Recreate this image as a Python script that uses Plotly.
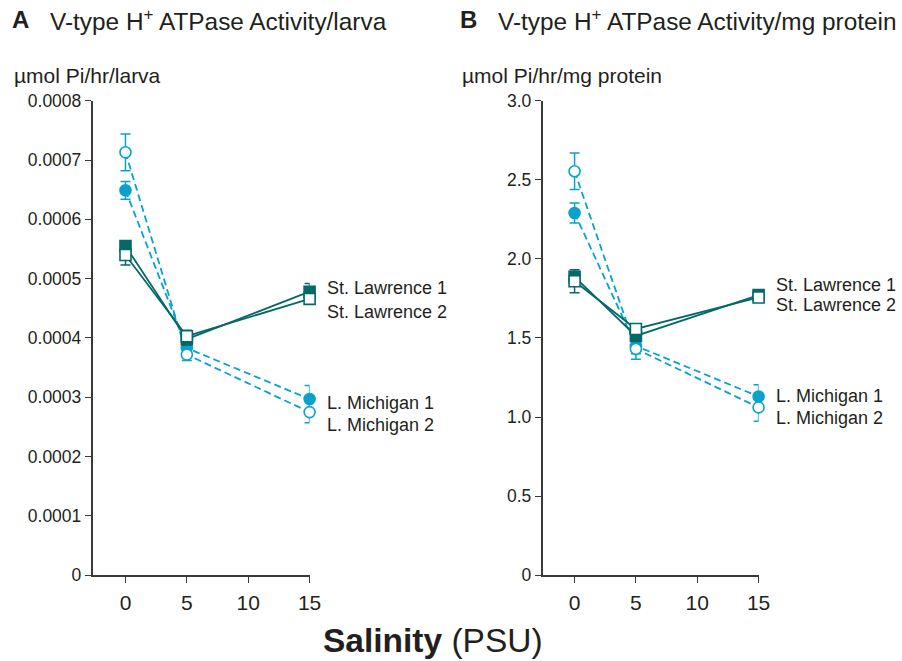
import plotly.graph_objects as go

salinity = [0, 5, 15]

# Panel A: activity per larva (umol Pi/hr/larva)
a_lm1 = [0.000649, 0.000383, 0.000297]
a_lm1_err = [0.000015, 0.000012, 0.000023]
a_lm2 = [0.000713, 0.000372, 0.000275]
a_lm2_err = [0.000031, 0.000010, 0.000018]
a_sl1 = [0.000555, 0.000398, 0.000478]
a_sl1_err = [0.000006, 0.000010, 0.000014]
a_sl2 = [0.000540, 0.000403, 0.000466]
a_sl2_err = [0.000017, 0.000010, 0.000008]

# Panel B: activity per mg protein (umol Pi/hr/mg protein)
b_lm1 = [2.29, 1.45, 1.13]
b_lm1_err = [0.063, 0.05, 0.074]
b_lm2 = [2.554, 1.431, 1.061]
b_lm2_err = [0.115, 0.065, 0.088]
b_sl1 = [1.886, 1.513, 1.771]
b_sl1_err = [0.022, 0.03, 0.03]
b_sl2 = [1.859, 1.557, 1.756]
b_sl2_err = [0.073, 0.03, 0.02]

a_ticks = [0, 0.0001, 0.0002, 0.0003, 0.0004, 0.0005, 0.0006, 0.0007, 0.0008]
a_ticktext = ["0", "0.0001", "0.0002", "0.0003", "0.0004", "0.0005", "0.0006", "0.0007", "0.0008"]
b_ticks = [0, 0.5, 1.0, 1.5, 2.0, 2.5, 3.0]
b_ticktext = ["0", "0.5", "1.0", "1.5", "2.0", "2.5", "3.0"]
x_ticks = [0, 5, 10, 15]

series_names = ["L. Michigan 1", "L. Michigan 2", "St. Lawrence 1", "St. Lawrence 2"]

CYAN = "#0aa2cc"
TEAL = "#05696a"
TXT = "#231f20"
AX = "#3a3a3a"
FONT = "Liberation Sans, Arial, sans-serif"

# rendered paper area (measured): width 894, height 643, top offset 9
PW, PH, PT = 894.0, 643.0, 9.0
def fx(px):
    return px / PW
def fy(py):
    return 1 - (py - PT) / PH

fig = go.Figure()

def add_series(xa, ya, y, err, color, filled, symbol, dash):
    fig.add_trace(go.Scatter(
        x=salinity, y=y, xaxis=xa, yaxis=ya, mode="lines+markers",
        line=dict(color=color, width=1.8, dash=dash),
        marker=dict(symbol=symbol, size=11, color=color if filled else "white",
                    line=dict(color=color, width=1.6)),
        error_y=dict(type="data", array=err, visible=True, color=color,
                     thickness=1.5, width=5),
        showlegend=False, cliponaxis=False,
    ))

panels = [
    ("x", "y", [(a_lm1, a_lm1_err), (a_lm2, a_lm2_err), (a_sl1, a_sl1_err), (a_sl2, a_sl2_err)]),
    ("x2", "y2", [(b_lm1, b_lm1_err), (b_lm2, b_lm2_err), (b_sl1, b_sl1_err), (b_sl2, b_sl2_err)]),
]
styles = [(CYAN, True, "circle", "7px,4px"), (CYAN, False, "circle", "7px,4px"),
          (TEAL, True, "square", "solid"), (TEAL, False, "square", "solid")]

for xa, ya, data in panels:
    for (vals, errs), (c, f, s, d) in zip(data, styles):
        add_series(xa, ya, vals, errs, c, f, s, d)

def xaxis(domain, rng, anchor):
    return dict(domain=domain, range=rng, anchor=anchor, tickvals=x_ticks,
                ticktext=[str(t) for t in x_ticks], showline=True, linecolor=AX,
                linewidth=1.5, ticks="outside", ticklen=6, tickwidth=1.3, tickcolor=AX,
                ticklabelstandoff=2,
                showgrid=False, zeroline=False, tickfont=dict(size=21, color=TXT, family=FONT))

def yaxis(rng, tv, tt, anchor):
    return dict(domain=[fy(576), fy(100)], range=rng, anchor=anchor, tickvals=tv, ticktext=tt,
                showline=True, linecolor=AX, linewidth=1.5, ticks="outside", ticklen=6,
                tickwidth=1.3, tickcolor=AX, showgrid=False, zeroline=False,
                tickfont=dict(size=17.5, color=TXT, family=FONT))

fig.update_layout(
    width=902, height=661, autosize=False, margin=dict(l=0, r=0, t=0, b=0),
    paper_bgcolor="white", plot_bgcolor="white",
    font=dict(family=FONT, color=TXT),
    xaxis=xaxis([fx(93), fx(311)], [-2.68, 15], "y"),
    yaxis=yaxis([0, 0.0008], a_ticks, a_ticktext, "x"),
    xaxis2=xaxis([fx(545), fx(762)], [-2.61, 15], "y2"),
    yaxis2=yaxis([0, 3.0], b_ticks, b_ticktext, "x2"),
)

ann = []
def txt(x, y, text, size, xanchor="left", xref="paper", yref="paper", xshift=0):
    ann.append(dict(x=x, y=y, xref=xref, yref=yref, text=text, showarrow=False,
                    xanchor=xanchor, yanchor="middle", xshift=xshift,
                    font=dict(size=size, color=TXT, family=FONT)))

# Panel titles and unit labels
txt(fx(10), fy(19), "<b>A</b>", 24)
txt(fx(48), fy(19), "V-type H<sup>+</sup> ATPase Activity/larva", 24.4)
txt(fx(12), fy(75), "µmol Pi/hr/larva", 21)
txt(fx(460), fy(19), "<b>B</b>", 24)
txt(fx(498), fy(19), "V-type H<sup>+</sup> ATPase Activity/mg protein", 24.4)
txt(fx(462), fy(75), "µmol Pi/hr/mg protein", 21)
txt(fx(435), fy(641), "<b>Salinity</b> (PSU)", 33.5, xanchor="center")

# Series labels beside last points
a_label_y = [0.000291, 0.000253, 0.000484, 0.000444]
b_label_y = [1.134, 0.996, 1.834, 1.708]
for name, yv in zip(series_names, a_label_y):
    txt(15, yv, name, 18, xref="x", yref="y", xshift=15)
for name, yv in zip(series_names, b_label_y):
    txt(15, yv, name, 18, xref="x2", yref="y2", xshift=15)

fig.update_layout(annotations=ann)
fig.write_html("out.html", config={"responsive": False})
